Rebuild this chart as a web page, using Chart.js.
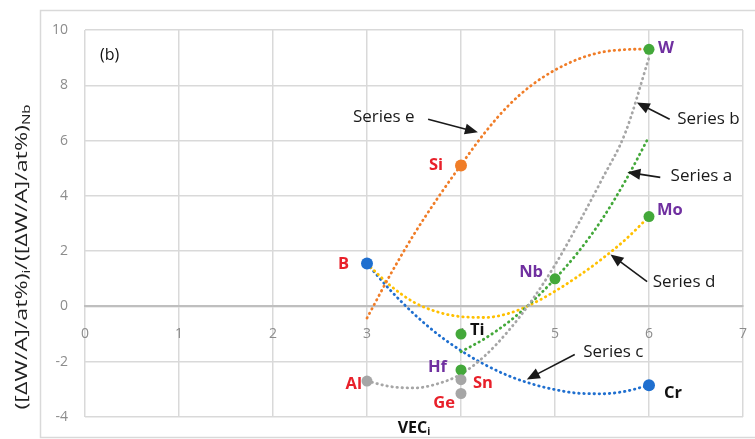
<!DOCTYPE html>
<html>
<head>
<meta charset="utf-8">
<script src="https://cdn.jsdelivr.net/npm/chart.js@4"></script>
<style>
  html, body { margin: 0; padding: 0; background: #fff; }
  #wrap { width: 755px; height: 439px; position: relative; }
</style>
</head>
<body>
<div id="wrap"><canvas id="chart"></canvas></div>
<script>
// Element points (VEC_i vs normalised value)
const elementNames = ['B', 'Si', 'W', 'Mo', 'Nb', 'Ti', 'Hf', 'Sn', 'Ge', 'Al', 'Cr'];
const elementVec = [3, 4, 6, 6, 5, 4, 4, 4, 4, 3, 6];
const elementValues = [1.55, 5.1, 9.3, 3.25, 1.0, -1.0, -2.3, -2.65, -3.15, -2.7, -2.85];
const elementGroup = ['blue', 'orange', 'green', 'green', 'green', 'green', 'green', 'gray', 'gray', 'gray', 'blue'];
const elementLabelTone = ['red', 'red', 'purple', 'purple', 'purple', 'black', 'purple', 'red', 'red', 'red', 'black'];

// Dotted trend curves at quarter steps
const trendVec = [3, 3.25, 3.5, 3.75, 4, 4.25, 4.5, 4.75, 5, 5.25, 5.5, 5.75, 6];
const seriesA = [null, null, null, null, -1.64, -1.17, -0.58, 0.15, 1.0, 1.98, 3.15, 4.55, 6.14];
const seriesB = [-2.7, -2.9, -2.95, -2.8, -2.45, -1.8, -0.9, 0.2, 1.5, 3.0, 4.6, 6.3, 9.0];
const seriesC = [1.55, 0.58, -0.27, -1.0, -1.6, -2.1, -2.5, -2.8, -3.01, -3.14, -3.16, -3.07, -2.85];
const seriesD = [1.55, 0.75, 0.15, -0.2, -0.37, -0.4, -0.26, 0.08, 0.55, 1.1, 1.72, 2.42, 3.25];
const seriesE = [-0.42, 1.16, 2.61, 3.91, 5.12, 6.27, 7.25, 8.0, 8.55, 8.95, 9.2, 9.29, 9.31];

const xTicks = [0, 1, 2, 3, 4, 5, 6, 7];
const yTicks = [-4, -2, 0, 2, 4, 6, 8, 10];

// styles
const colors = {
  blue: '#1F6FCF', orange: '#F07D28', green: '#43A83A', gray: '#A6A6A6', yellow: '#FFC000',
  red: '#E8202A', purple: '#7030A0', black: '#111111'
};
const fontFamily = '"Open Sans", "Liberation Sans", sans-serif';

// label offsets in px: [dx, dy, align]
const labelOffsets = {
  B: [-18, 1, 'right'], Si: [-18, 0, 'right'], W: [9, -1, 'left'], Mo: [8, -6, 'left'],
  Nb: [-12, -6, 'right'], Ti: [9, -4, 'left'], Hf: [-14, -3, 'right'], Sn: [12, 4, 'left'],
  Ge: [-6, 10, 'right'], Al: [-5, 3, 'right'], Cr: [15, 8, 'left']
};

// callouts anchored in data units
const callouts = [
  { text: 'Series e', at: [2.85, 6.84], from: [3.65, 6.77], to: [4.18, 6.30] },
  { text: 'Series b', at: [6.30, 6.77], from: [6.22, 6.77], to: [5.87, 7.38] },
  { text: 'Series a', at: [6.23, 4.70], from: [6.12, 4.67], to: [5.77, 4.85] },
  { text: 'Series d', at: [6.04, 0.87], from: [5.98, 0.90], to: [5.59, 1.88] },
  { text: 'Series c', at: [5.30, -1.66], from: [5.21, -1.74], to: [4.70, -2.64] }
];

function curve(values, color) {
  const pts = [];
  values.forEach((v, i) => { if (v !== null) pts.push({ x: trendVec[i], y: v }); });
  return {
    data: pts, showLine: true, pointRadius: 0, borderColor: color, borderWidth: 2.8,
    borderDash: [0.5, 4.6], borderCapStyle: 'round', cubicInterpolationMode: 'monotone', order: 5
  };
}

function pointSet(group, radius) {
  const pts = [];
  elementNames.forEach((n, i) => {
    if (elementGroup[i] === group) pts.push({ x: elementVec[i], y: elementValues[i] });
  });
  return {
    data: pts, showLine: false, pointRadius: radius, pointHoverRadius: radius,
    backgroundColor: colors[group], borderColor: colors[group], borderWidth: 0, order: 1
  };
}

function drawArrow(ctx, x1, y1, x2, y2) {
  const a = Math.atan2(y2 - y1, x2 - x1);
  const hl = 13, hw = 5.5;
  const c = Math.cos(a), s = Math.sin(a);
  ctx.beginPath();
  ctx.moveTo(x1, y1);
  ctx.lineTo(x2 - hl * 0.8 * c, y2 - hl * 0.8 * s);
  ctx.stroke();
  ctx.beginPath();
  ctx.moveTo(x2, y2);
  ctx.lineTo(x2 - hl * c + hw * s, y2 - hl * s - hw * c);
  ctx.lineTo(x2 - hl * c - hw * s, y2 - hl * s + hw * c);
  ctx.closePath();
  ctx.fill();
}

function richWidth(ctx, parts) {
  let w = 0;
  parts.forEach(p => { ctx.font = p.font; w += ctx.measureText(p.t).width; });
  return w;
}

function drawRich(ctx, parts, x, y) {
  let cx = x - richWidth(ctx, parts) / 2;
  ctx.textAlign = 'left';
  parts.forEach(p => {
    ctx.font = p.font;
    ctx.fillText(p.t, cx, y + (p.dy || 0));
    cx += ctx.measureText(p.t).width;
  });
}

const decor = {
  id: 'decor',
  beforeDraw(chart) {
    const { ctx, width, height } = chart;
    ctx.save();
    ctx.fillStyle = '#fff';
    ctx.fillRect(0, 0, width, height);
    ctx.strokeStyle = '#d9d9d9';
    ctx.lineWidth = 1.5;
    ctx.strokeRect(40.5, 10.5, width + 20, height - 12);
    ctx.restore();
  },
  afterDatasetsDraw(chart) {
    const { ctx, chartArea } = chart;
    const xs = chart.scales.x, ys = chart.scales.y;
    ctx.save();

    // point labels
    ctx.font = 'bold 16.5px ' + fontFamily;
    ctx.textBaseline = 'middle';
    elementNames.forEach((n, i) => {
      const off = labelOffsets[n];
      ctx.fillStyle = colors[elementLabelTone[i]];
      ctx.textAlign = off[2];
      ctx.fillText(n, xs.getPixelForValue(elementVec[i]) + off[0], ys.getPixelForValue(elementValues[i]) + off[1]);
    });

    // callouts
    ctx.font = '17px ' + fontFamily;
    ctx.fillStyle = '#1a1a1a';
    ctx.strokeStyle = '#1a1a1a';
    ctx.lineWidth = 1.6;
    callouts.forEach(c => {
      ctx.textAlign = 'left';
      ctx.fillText(c.text, xs.getPixelForValue(c.at[0]), ys.getPixelForValue(c.at[1]));
      drawArrow(ctx, xs.getPixelForValue(c.from[0]), ys.getPixelForValue(c.from[1]),
        xs.getPixelForValue(c.to[0]), ys.getPixelForValue(c.to[1]));
    });

    // panel tag
    ctx.font = '16px ' + fontFamily;
    ctx.fillStyle = '#111';
    ctx.textAlign = 'left';
    ctx.fillText('(b)', chartArea.left + 15, chartArea.top + 25);

    // x title
    drawRich(ctx, [
      { t: 'VEC', font: 'bold 16px ' + fontFamily },
      { t: 'i', font: 'bold 10px ' + fontFamily, dy: 4 }
    ], 414, 428);

    // y title, stretched to the length seen in the figure
    const main = '17px ' + fontFamily, sub = '11px ' + fontFamily;
    const yParts = [
      { t: '([\u0394W/A]/at%)', font: main },
      { t: 'i', font: sub, dy: 5 },
      { t: '/([\u0394W/A]/at%)', font: main },
      { t: 'Nb', font: sub, dy: 5 }
    ];
    const stretch = 305 / richWidth(ctx, yParts);
    ctx.translate(22, 257);
    ctx.rotate(-Math.PI / 2);
    ctx.scale(stretch, 1);
    ctx.fillStyle = '#222';
    drawRich(ctx, yParts, 0, 0);
    ctx.restore();
  }
};

Chart.defaults.font.family = fontFamily;

new Chart(document.getElementById('chart').getContext('2d'), {
  type: 'scatter',
  data: {
    datasets: [
      curve(seriesE, colors.orange),
      curve(seriesB, colors.gray),
      curve(seriesA, colors.green),
      curve(seriesD, colors.yellow),
      curve(seriesC, colors.blue),
      pointSet('gray', 5.5),
      pointSet('orange', 6),
      pointSet('blue', 6),
      pointSet('green', 5.5)
    ]
  },
  options: {
    responsive: true,
    maintainAspectRatio: false,
    animation: false,
    layout: { padding: { top: 30, right: 12, bottom: 22, left: 0 } },
    plugins: { legend: { display: false }, tooltip: { enabled: false } },
    scales: {
      x: {
        type: 'linear', min: 0, max: 7, position: { y: 0 },
        afterBuildTicks: s => { s.ticks = xTicks.map(v => ({ value: v })); },
        afterFit: s => { s.paddingLeft = 0; s.paddingRight = 0; },
        ticks: { color: '#8c8c8c', padding: 19, font: { size: 14 } },
        grid: { color: '#d9d9d9', lineWidth: 1.5, drawTicks: false },
        border: { color: '#bfbfbf', width: 2 }
      },
      y: {
        type: 'linear', min: -4, max: 10, position: 'left',
        afterBuildTicks: s => { s.ticks = yTicks.map(v => ({ value: v })); },
        afterFit: s => { s.width = 85; s.paddingTop = 0; s.paddingBottom = 0; },
        ticks: { color: '#8c8c8c', padding: 17, font: { size: 14 } },
        grid: { color: '#d9d9d9', lineWidth: 1.5, drawTicks: false },
        border: { display: false }
      }
    }
  },
  plugins: [decor]
});
</script>
</body>
</html>
